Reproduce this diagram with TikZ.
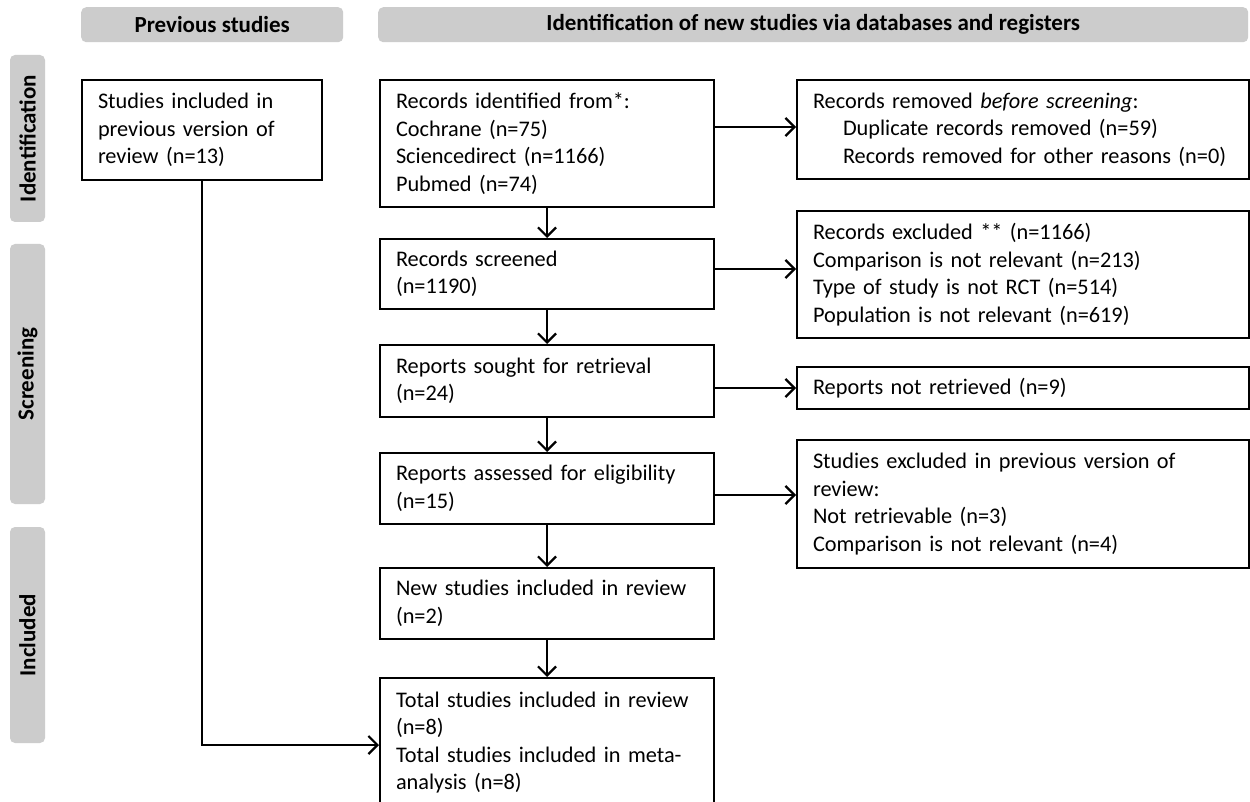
\documentclass[tikz,border=0pt]{standalone}
\usepackage{fontspec}
\setmainfont{Carlito}
\usetikzlibrary{arrows.meta}
\definecolor{hgray}{RGB}{204,204,204}
\begin{document}
\begin{tikzpicture}[x=1pt,y=-1pt,
  box/.style={draw, line width=2pt, anchor=north west, inner xsep=16pt, inner ysep=0pt, align=left, font=\fontsize{22.3}{27.5}\selectfont},
  midbox/.style={box, text width=302pt},
  rbox/.style={box, text width=420pt},
  hdr/.style={fill=hgray, rounded corners=5pt, inner sep=0pt, font=\fontsize{23}{27}\bfseries\selectfont},
  arr/.style={line width=2.2pt, -{Straight Barb[length=9pt,width=18pt,line width=2.2pt]}}]
\useasboundingbox (0,0) rectangle (1250,802);
\clip (0,0) rectangle (1250,802);
\fill[white] (0,0) rectangle (1250,802);

% headers
\node[hdr, anchor=north west, minimum width=262pt, minimum height=35pt] (hprev) at (81,7) {Previous studies};
\node[hdr, anchor=north west, minimum width=870pt, minimum height=35pt] (hnew) at (378,7) {Identification of new studies via databases and registers};
% side labels
\node[hdr, rotate=90, minimum width=167pt, minimum height=35pt] (sid) at (27.5,138.5) {Identification};
\node[hdr, rotate=90, minimum width=260pt, minimum height=35pt] (sscr) at (27.5,374) {Screening};
\node[hdr, rotate=90, minimum width=216pt, minimum height=35pt] (sinc) at (27.5,635) {Included};

% left column
\node[box, text width=208pt, minimum height=100pt] (prev) at (81,79) {Studies included in\\previous version of\\review (n=13)};

% middle column
\node[midbox, minimum height=127pt] (ident) at (379,79) {Records identified from*:\\Cochrane (n=75)\\Sciencedirect (n=1166)\\Pubmed (n=74)};
\node[midbox, minimum height=70pt] (screened) at (379,238) {Records screened\\(n=1190)};
\node[midbox, minimum height=72pt] (sought) at (379,344) {Reports sought for retrieval\\(n=24)};
\node[midbox, minimum height=71pt] (assessed) at (379,452) {Reports assessed for eligibility\\(n=15)};
\node[midbox, minimum height=71pt] (newst) at (379,567) {New studies included in review\\(n=2)};
\node[midbox, minimum height=129pt] (total) at (379,677) {Total studies included in review\\(n=8)\\Total studies included in meta-\\analysis (n=8)};

% right column
\node[rbox, minimum height=99pt] (removed) at (796,79) {Records removed \textit{before screening}:\\\hspace*{30pt}Duplicate records removed (n=59)\\\hspace*{30pt}Records removed for other reasons (n=0)};
\node[rbox, minimum height=127pt] (excluded) at (796,210) {Records excluded ** (n=1166)\\Comparison is not relevant (n=213)\\Type of study is not RCT (n=514)\\Population is not relevant (n=619)};
\node[rbox, minimum height=42pt] (notret) at (796,366) {Reports not retrieved (n=9)};
\node[rbox, minimum height=128pt] (studexcl) at (796,439) {Studies excluded in previous version of\\review:\\Not retrievable (n=3)\\Comparison is not relevant (n=4)};

% vertical arrows
\draw[arr] (ident.south) -- (screened.north);
\draw[arr] (screened.south) -- (sought.north);
\draw[arr] (sought.south) -- (assessed.north);
\draw[arr] (assessed.south) -- (newst.north);
\draw[arr] (newst.south) -- (total.north);

% horizontal arrows
\draw[arr] (ident.east |- 0,127) -- (removed.west |- 0,127);
\draw[arr] (screened.east |- 0,269) -- (excluded.west |- 0,269);
\draw[arr] (sought.east |- 0,388) -- (notret.west |- 0,388);
\draw[arr] (assessed.east |- 0,495) -- (studexcl.west |- 0,495);

% previous studies connector
\coordinate (elbow) at (prev.south |- 0,745);
\draw[arr] (prev.south) -- (elbow) -- (total.west |- elbow);
\end{tikzpicture}
\end{document}
